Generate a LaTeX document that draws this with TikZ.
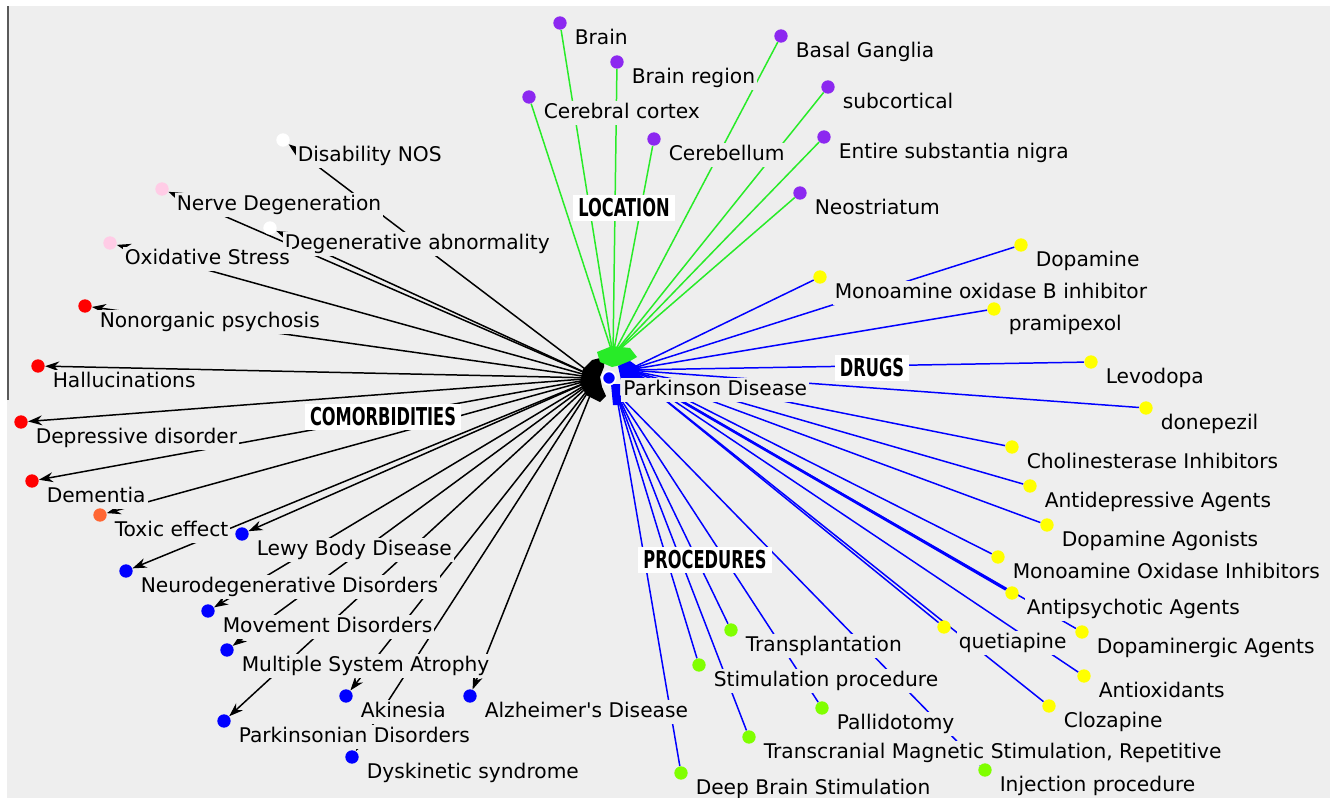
\documentclass[tikz,border=0pt]{standalone}
\usepackage{fontspec}
\setmainfont{DejaVu Sans}
\newfontfamily\lblfont{DejaVu Sans}
\newfontfamily\catfont{DejaVu Sans}[FakeStretch=0.66]
\usetikzlibrary{arrows,arrows.meta,positioning}
\definecolor{bgc}{RGB}{238,238,238}
\definecolor{purp}{RGB}{140,40,240}
\definecolor{lgreen}{RGB}{40,235,40}
\definecolor{lime}{RGB}{128,255,0}
\definecolor{ylw}{RGB}{255,255,0}
\definecolor{pnk}{RGB}{255,204,230}
\definecolor{orng}{RGB}{255,102,51}
\definecolor{frame}{RGB}{90,90,90}
\pgfdeclarelayer{base}
\pgfdeclarelayer{edges}
\pgfsetlayers{base,edges,main}
\tikzset{%
dot/.style={circle, fill=#1, inner sep=0pt, minimum size=7.6pt},
lbltext/.style={fill=bgc, inner sep=1.2pt, text height=8.4pt, text depth=2.4pt,
  font=\lblfont\fontsize{11.5}{12}\selectfont},
lbl/.style={lbltext, anchor=west, xshift=3pt, yshift=-9.1pt},
cat/.style={fill=white, inner xsep=3pt, inner ysep=2.5pt, text height=10pt, text depth=0pt,
  font=\catfont\bfseries\fontsize{14}{15}\selectfont},
locline/.style={draw=lgreen, line width=0.85pt},
drugline/.style={draw=blue, line width=0.85pt},
procline/.style={draw=blue, line width=0.85pt},
comline/.style={draw=black, line width=0.85pt, -{Stealth[length=8pt,width=5.6pt]}}
}

\begin{document}
\begin{tikzpicture}[x=0.02cm,y=-0.02cm]
\useasboundingbox (0,0) rectangle (1333,798);
\begin{pgfonlayer}{base}
\fill[bgc] (7,6) rectangle (1330,798);
\draw[frame, line width=1.2pt] (8,6) -- (8,400);
\end{pgfonlayer}

% centre
\coordinate (hubL) at (597,378);
\coordinate (hubT) at (613,355);
\coordinate (hubR) at (628,370);
\coordinate (hubB) at (616,392);

% location
\node[dot=purp, label={[lbl]0:Brain}] (brain) at (560,23) {};
\node[dot=purp, label={[lbl]0:Brain region}] (brainreg) at (617,62) {};
\node[dot=purp, label={[lbl]0:Cerebral cortex}] (cortex) at (529,97) {};
\node[dot=purp, label={[lbl]0:Cerebellum}] (cerebellum) at (654,139) {};
\node[dot=purp, label={[lbl]0:Basal Ganglia}] (basal) at (781,36) {};
\node[dot=purp, label={[lbl]0:subcortical}] (subcort) at (828,87) {};
\node[dot=purp, label={[lbl]0:Entire substantia nigra}] (nigra) at (824,137) {};
\node[dot=purp, label={[lbl]0:Neostriatum}] (neostr) at (800,193) {};

% drugs
\node[dot=ylw, label={[lbl]0:Dopamine}] (dopamine) at (1021,245) {};
\node[dot=ylw, label={[lbl]0:Monoamine oxidase B inhibitor}] (maob) at (820,277) {};
\node[dot=ylw, label={[lbl]0:pramipexol}] (prami) at (994,309) {};
\node[dot=ylw, label={[lbl]0:Levodopa}] (levodopa) at (1091,362) {};
\node[dot=ylw, label={[lbl]0:donepezil}] (donepezil) at (1146,408) {};
\node[dot=ylw, label={[lbl]0:Cholinesterase Inhibitors}] (cholin) at (1012,447) {};
\node[dot=ylw, label={[lbl]0:Antidepressive Agents}] (antidep) at (1030,486) {};
\node[dot=ylw, label={[lbl]0:Dopamine Agonists}] (dagon) at (1047,525) {};
\node[dot=ylw, label={[lbl]0:Monoamine Oxidase Inhibitors}] (maoi) at (998,557) {};
\node[dot=ylw, label={[lbl]0:Antipsychotic Agents}] (antipsy) at (1012,593) {};
\node[dot=ylw, label={[lbl]0:Dopaminergic Agents}] (dopaminerg) at (1082,632) {};
\node[dot=ylw, label={[lbl]0:quetiapine}] (quetia) at (944,627) {};
\node[dot=ylw, label={[lbl]0:Antioxidants}] (antiox) at (1084,676) {};
\node[dot=ylw, label={[lbl]0:Clozapine}] (clozap) at (1049,706) {};

% procedures
\node[dot=lime, label={[lbl]0:Transplantation}] (transpl) at (731,630) {};
\node[dot=lime, label={[lbl]0:Stimulation procedure}] (stimproc) at (699,665) {};
\node[dot=lime, label={[lbl]0:Pallidotomy}] (pallido) at (822,708) {};
\node[dot=lime, label={[lbl]0:Transcranial Magnetic Stimulation, Repetitive}] (tms) at (749,737) {};
\node[dot=lime, label={[lbl]0:Deep Brain Stimulation}] (dbs) at (681,773) {};
\node[dot=lime, label={[lbl]0:Injection procedure}] (inject) at (985,770) {};

% comorbidities
\node[dot=white, label={[lbl]0:Disability NOS}] (disab) at (283,140) {};
\node[dot=pnk, label={[lbl]0:Nerve Degeneration}] (nervedeg) at (162,189) {};
\node[dot=white, label={[lbl]0:Degenerative abnormality}] (degabn) at (270,228) {};
\node[dot=pnk, label={[lbl]0:Oxidative Stress}] (oxstress) at (110,243) {};
\node[dot=red, label={[lbl]0:Nonorganic psychosis}] (nonorg) at (85,306) {};
\node[dot=red, label={[lbl]0:Hallucinations}] (halluc) at (38,366) {};
\node[dot=red, label={[lbl]0:Depressive disorder}] (depress) at (21,422) {};
\node[dot=red, label={[lbl]0:Dementia}] (dementia) at (32,481) {};
\node[dot=orng, label={[lbl]0:Toxic effect}] (toxic) at (100,515) {};
\node[dot=blue, label={[lbl]0:Lewy Body Disease}] (lewy) at (242,534) {};
\node[dot=blue, label={[lbl]0:Neurodegenerative Disorders}] (neurodeg) at (126,571) {};
\node[dot=blue, label={[lbl]0:Movement Disorders}] (movement) at (208,611) {};
\node[dot=blue, label={[lbl]0:Multiple System Atrophy}] (msa) at (227,650) {};
\node[dot=blue, label={[lbl]0:Akinesia}] (akinesia) at (346,696) {};
\node[dot=blue, label={[lbl]0:Alzheimer's Disease}] (alzh) at (470,696) {};
\node[dot=blue, label={[lbl]0:Parkinsonian Disorders}] (parkdis) at (224,721) {};
\node[dot=blue, label={[lbl]0:Dyskinetic syndrome}] (dyskin) at (352,757) {};

\begin{pgfonlayer}{edges}
\draw[locline] (hubT) -- (brain);
\draw[locline] (hubT) -- (brainreg);
\draw[locline] (hubT) -- (cortex);
\draw[locline] (hubT) -- (cerebellum);
\draw[locline] (hubT) -- (basal);
\draw[locline] (hubT) -- (subcort);
\draw[locline] (hubT) -- (nigra);
\draw[locline] (hubT) -- (neostr);

\draw[drugline] (hubR) -- (dopamine);
\draw[drugline] (hubR) -- (maob);
\draw[drugline] (hubR) -- (prami);
\draw[drugline] (hubR) -- (levodopa);
\draw[drugline] (hubR) -- (donepezil);
\draw[drugline] (hubR) -- (cholin);
\draw[drugline] (hubR) -- (antidep);
\draw[drugline] (hubR) -- (dagon);
\draw[drugline] (hubR) -- (maoi);
\draw[drugline, line width=1.5pt] (hubR) -- (antipsy);
\draw[drugline] (hubR) -- (dopaminerg);
\draw[drugline] (hubR) -- (quetia);
\draw[drugline] (hubR) -- (antiox);
\draw[drugline] (hubR) -- (clozap);

\draw[procline] (hubB) -- (transpl);
\draw[procline] (hubB) -- (stimproc);
\draw[procline] (hubB) -- (pallido);
\draw[procline] (hubB) -- (tms);
\draw[procline] (hubB) -- (dbs);
\draw[procline] (hubB) -- (inject);

\draw[comline] (hubL) -- (disab);
\draw[comline] (hubL) -- (nervedeg);
\draw[comline] (hubL) -- (degabn);
\draw[comline] (hubL) -- (oxstress);
\draw[comline] (hubL) -- (nonorg);
\draw[comline] (hubL) -- (halluc);
\draw[comline] (hubL) -- (depress);
\draw[comline] (hubL) -- (dementia);
\draw[comline] (hubL) -- (toxic);
\draw[comline] (hubL) -- (lewy);
\draw[comline] (hubL) -- (neurodeg);
\draw[comline] (hubL) -- (movement);
\draw[comline] (hubL) -- (msa);
\draw[comline] (hubL) -- (akinesia);
\draw[comline] (hubL) -- (alzh);
\draw[comline] (hubL) -- (parkdis);
\draw[comline] (hubL) -- (dyskin);
\end{pgfonlayer}

% blobs round the centre
\fill[black] (604,357) -- (592,360) -- (583,369) -- (580,383) -- (586,395) -- (600,402) -- (606,396) -- (602,387) -- (600,377) -- (604,367) -- cycle;
\fill[lgreen] (597,352) -- (612,346) -- (630,348) -- (637,357) -- (625,364) -- (612,367) -- (600,362) -- cycle;
\fill[blue] (618,366) -- (630,361) -- (640,368) -- (637,378) -- (621,380) -- cycle;
\fill[blue] (611,384) -- (620,384) -- (620,405) -- (613,405) -- cycle;
\node[dot=blue, draw=white, line width=1pt] (pd) at (609,378) {};
\node[lbltext, anchor=west] (pdtext) at (621,390) {Parkinson Disease};

% category tags
\node[cat] (location) at (624,208) {LOCATION};
\node[cat] (drugs) at (872,368) {DRUGS};
\node[cat] (comorb) at (383,417) {COMORBIDITIES};
\node[cat] (procs) at (705,560) {PROCEDURES};
\end{tikzpicture}
\end{document}
